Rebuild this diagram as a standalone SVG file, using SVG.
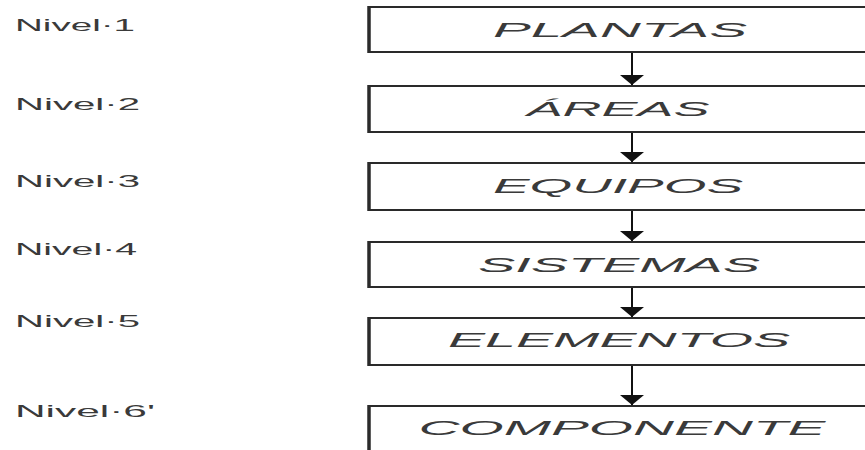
<svg xmlns="http://www.w3.org/2000/svg" width="865" height="450" viewBox="0 0 865 450">
<style>
.box{fill:#fff;stroke:#2a2a2a;stroke-width:2}
.edge{stroke:#2a2a2a;stroke-width:3.5}
.t{font-family:"Liberation Sans",Arial,sans-serif;font-style:italic;font-size:21px;fill:#3a3a3a;text-anchor:middle}
.lv{font-family:"Liberation Sans",Arial,sans-serif;font-size:17px;fill:#3a3a3a}
.con{stroke:#111;stroke-width:2;fill:none}
</style>
<defs>
<marker id="ah" viewBox="0 0 10 24" refX="10" refY="12" markerWidth="10" markerHeight="24" markerUnits="userSpaceOnUse" orient="auto">
<path d="M0,0 L10,12 L0,24 z" fill="#111"/>
</marker>
</defs>
<rect width="865" height="450" fill="#fff"/>
<g id="labels">
<text class="lv" x="15" y="31" textLength="120" lengthAdjust="spacingAndGlyphs">Nivel·1</text>
<text class="lv" x="15" y="110" textLength="125" lengthAdjust="spacingAndGlyphs">Nivel·2</text>
<text class="lv" x="15" y="187" textLength="125" lengthAdjust="spacingAndGlyphs">Nivel·3</text>
<text class="lv" x="15" y="255" textLength="122" lengthAdjust="spacingAndGlyphs">Nivel·4</text>
<text class="lv" x="15" y="327" textLength="125" lengthAdjust="spacingAndGlyphs">Nivel·5</text>
<text class="lv" x="15" y="417" textLength="140" lengthAdjust="spacingAndGlyphs">Nivel·6'</text>
</g>
<g id="n1">
<rect class="box" x="369" y="7" width="510" height="45"/>
<line class="edge" x1="369" y1="6" x2="369" y2="53"/>
<text class="t" x="620" y="37" textLength="254" lengthAdjust="spacingAndGlyphs">PLANTAS</text>
</g>
<g id="n2">
<rect class="box" x="369" y="86" width="510" height="46"/>
<line class="edge" x1="369" y1="85" x2="369" y2="133"/>
<text class="t" x="618" y="116" textLength="183" lengthAdjust="spacingAndGlyphs">ÁREAS</text>
</g>
<g id="n3">
<rect class="box" x="369" y="163" width="510" height="47"/>
<line class="edge" x1="369" y1="162" x2="369" y2="211"/>
<text class="t" x="618" y="193" textLength="250" lengthAdjust="spacingAndGlyphs">EQUIPOS</text>
</g>
<g id="n4">
<rect class="box" x="369" y="242" width="510" height="45"/>
<line class="edge" x1="369" y1="241" x2="369" y2="288"/>
<text class="t" x="619" y="272" textLength="282" lengthAdjust="spacingAndGlyphs">SISTEMAS</text>
</g>
<g id="n5">
<rect class="box" x="369" y="318" width="510" height="47"/>
<line class="edge" x1="369" y1="317" x2="369" y2="366"/>
<text class="t" x="619" y="347" textLength="342" lengthAdjust="spacingAndGlyphs">ELEMENTOS</text>
</g>
<g id="n6">
<rect class="box" x="369" y="406" width="510" height="60"/>
<line class="edge" x1="369" y1="405" x2="369" y2="452"/>
<text class="t" x="622" y="435" textLength="407" lengthAdjust="spacingAndGlyphs">COMPONENTE</text>
</g>
<g id="connectors">
<line class="con" x1="632" y1="53" x2="632" y2="85" marker-end="url(#ah)"/>
<line class="con" x1="632" y1="133" x2="632" y2="162" marker-end="url(#ah)"/>
<line class="con" x1="632" y1="211" x2="632" y2="241" marker-end="url(#ah)"/>
<line class="con" x1="632" y1="288" x2="632" y2="317" marker-end="url(#ah)"/>
<line class="con" x1="632" y1="366" x2="632" y2="405" marker-end="url(#ah)"/>
</g>
</svg>
